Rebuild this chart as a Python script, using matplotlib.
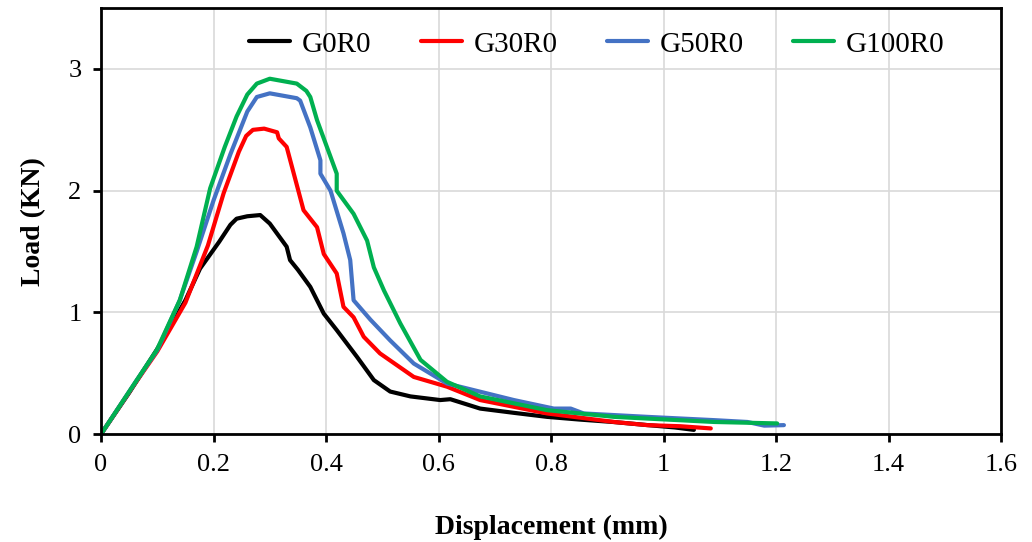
import matplotlib.pyplot as plt

plt.rcParams["font.family"] = ["Liberation Serif", "DejaVu Serif"]

# --- Data ---------------------------------------------------------------
g0r0_x = [0, 0.05, 0.10, 0.15, 0.176, 0.21, 0.23, 0.241, 0.26, 0.283, 0.30, 0.330, 0.336,
          0.350, 0.372, 0.396, 0.419, 0.455, 0.485, 0.514, 0.55, 0.603, 0.621,
          0.674, 0.734, 0.793, 0.85, 0.91, 0.97, 1.02, 1.054]
g0r0_y = [0, 0.34, 0.70, 1.10, 1.36, 1.58, 1.72, 1.77, 1.79, 1.80, 1.73, 1.54, 1.43,
          1.35, 1.21, 0.99, 0.855, 0.635, 0.444, 0.35, 0.31, 0.28, 0.287,
          0.21, 0.175, 0.142, 0.12, 0.10, 0.075, 0.055, 0.035]

g30r0_x = [0, 0.058, 0.10, 0.15, 0.19, 0.218, 0.245, 0.258, 0.27, 0.29, 0.313, 0.316,
           0.330, 0.345, 0.36, 0.384, 0.396, 0.419, 0.431, 0.449, 0.467, 0.496, 0.556,
           0.615, 0.674, 0.793, 0.912, 0.971, 1.03, 1.084]
g30r0_y = [0, 0.40, 0.68, 1.08, 1.55, 1.98, 2.32, 2.45, 2.50, 2.51, 2.48, 2.43,
           2.36, 2.10, 1.84, 1.70, 1.48, 1.32, 1.046, 0.96, 0.80, 0.663, 0.47,
           0.39, 0.28, 0.17, 0.10, 0.074, 0.065, 0.047]

g50r0_x = [0, 0.063, 0.10, 0.14, 0.17, 0.20, 0.23, 0.26, 0.277, 0.30, 0.348, 0.354, 0.372,
           0.39, 0.39, 0.408, 0.431, 0.443, 0.449, 0.479, 0.514, 0.556, 0.615,
           0.734, 0.805, 0.835, 0.858, 0.971, 1.09, 1.149, 1.179, 1.214]
g50r0_y = [0, 0.44, 0.69, 1.10, 1.50, 1.92, 2.30, 2.65, 2.77, 2.80, 2.76, 2.74, 2.52,
           2.25, 2.14, 2.00, 1.65, 1.43, 1.10, 0.94, 0.77, 0.58, 0.416,
           0.28, 0.21, 0.21, 0.17, 0.142, 0.115, 0.10, 0.07, 0.074]

g100r0_x = [0, 0.063, 0.099, 0.14, 0.17, 0.194, 0.22, 0.241, 0.26, 0.277, 0.30, 0.348,
            0.365, 0.372, 0.384, 0.419, 0.419, 0.449, 0.473, 0.485, 0.503, 0.532,
            0.568, 0.615, 0.674, 0.793, 0.912, 1.09, 1.202]
g100r0_y = [0, 0.44, 0.69, 1.10, 1.54, 2.02, 2.36, 2.61, 2.79, 2.88, 2.92, 2.88,
            2.82, 2.77, 2.58, 2.14, 2.00, 1.81, 1.59, 1.37, 1.18, 0.91,
            0.61, 0.43, 0.31, 0.197, 0.142, 0.10, 0.088]

series = [
    ("G0R0", g0r0_x, g0r0_y, "black"),
    ("G30R0", g30r0_x, g30r0_y, "#ff0000"),
    ("G50R0", g50r0_x, g50r0_y, "#4472c4"),
    ("G100R0", g100r0_x, g100r0_y, "#00b050"),
]

x_ticks = [0, 0.2, 0.4, 0.6, 0.8, 1.0, 1.2, 1.4, 1.6]
x_ticklabels = ["0", "0.2", "0.4", "0.6", "0.8", "1", "1.2", "1.4", "1.6"]
y_ticks = [0, 1, 2, 3]

# --- Plot ----------------------------------------------------------------
fig = plt.figure(figsize=(10.32, 5.42), dpi=100)
ax = fig.add_axes([0.0979, 0.199, 0.8721, 0.786])

for name, xs, ys, color in series:
    ax.plot(xs, ys, color=color, lw=3, label=name, solid_capstyle="round",
            solid_joinstyle="round")

ax.set_xlim(0, 1.6)
ax.set_ylim(0, 3.5)
ax.set_xticks(x_ticks)
ax.set_xticklabels(x_ticklabels)
ax.set_yticks(y_ticks)
ax.grid(True, color="#d9d9d9", lw=1.2)
ax.set_axisbelow(True)
for sp in ax.spines.values():
    sp.set_linewidth(2)
ax.tick_params(direction="out", length=6, width=2, labelsize=19, pad=8)

ax.set_xlabel("Displacement (mm)", fontsize=20, fontweight="bold", labelpad=28)
ax.set_ylabel("Load (KN)", fontsize=20, fontweight="bold", labelpad=16)

ax.legend(loc="center", bbox_to_anchor=(0.551, 0.915), ncol=4, frameon=False,
          fontsize=21, handlelength=1.4, handletextpad=0.4, columnspacing=1.7)

fig.savefig("out.png", dpi=100)
